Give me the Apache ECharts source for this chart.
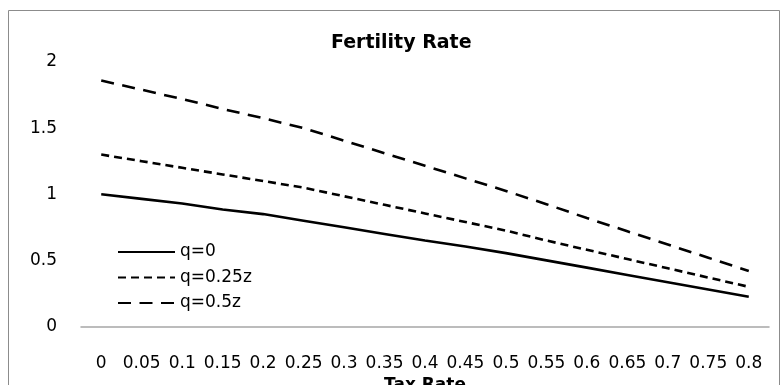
<!DOCTYPE html>
<html>
<head>
<meta charset="utf-8">
<script src="https://cdn.jsdelivr.net/npm/echarts@6/dist/echarts.min.js"></script>
<style>
  html, body { margin: 0; padding: 0; background: #fff; overflow: hidden; }
  #chart { width: 782px; height: 385px; }
</style>
</head>
<body>
<div id="chart"></div>
<script>
// Tax rate categories along the x axis
const taxRates = ['0', '0.05', '0.1', '0.15', '0.2', '0.25', '0.3', '0.35', '0.4',
                  '0.45', '0.5', '0.55', '0.6', '0.65', '0.7', '0.75', '0.8'];

// Fertility rate for each transfer level q
const fertilityQ0 = [1.00, 0.965, 0.93, 0.885, 0.85, 0.80, 0.75, 0.70, 0.65,
                     0.605, 0.555, 0.50, 0.445, 0.39, 0.335, 0.28, 0.225];
const fertilityQ025 = [1.30, 1.25, 1.20, 1.15, 1.10, 1.05, 0.985, 0.92, 0.855,
                       0.79, 0.725, 0.65, 0.58, 0.51, 0.44, 0.37, 0.30];
const fertilityQ05 = [1.86, 1.79, 1.72, 1.645, 1.575, 1.50, 1.405, 1.31, 1.215,
                      1.12, 1.025, 0.925, 0.82, 0.72, 0.62, 0.52, 0.42];

const seriesNames = ['q=0', 'q=0.25z', 'q=0.5z'];

const FONT = 'DejaVu Sans';
const chart = echarts.init(document.getElementById('chart'), null, { renderer: 'canvas' });

function lineSeries(name, data, dash) {
  return {
    name: name,
    type: 'line',
    data: data,
    symbol: 'none',
    smooth: false,
    lineStyle: { color: '#000', width: 2.6, type: dash, cap: 'butt' },
    itemStyle: { color: '#000' },
    emphasis: { disabled: true }
  };
}

chart.setOption({
  animation: false,
  backgroundColor: '#fff',
  graphic: [{
    type: 'rect',
    shape: { x: 8.5, y: 10.5, width: 771, height: 400 },
    style: { fill: 'none', stroke: '#8c8c8c', lineWidth: 1 },
    silent: true
  }],
  title: {
    text: 'Fertility Rate',
    left: 326,
    top: 29,
    textStyle: { fontFamily: FONT, fontSize: 19, fontWeight: 'bold', color: '#000' }
  },
  legend: {
    orient: 'vertical',
    left: 112,
    top: 238.5,
    itemWidth: 57,
    itemHeight: 14,
    itemGap: 8.5,
    data: seriesNames,
    // only the line sample is shown beside each name
    itemStyle: { opacity: 0 },
    textStyle: { fontFamily: FONT, fontSize: 17, color: '#000' }
  },
  grid: { left: 81, width: 688, top: 62, height: 264.5, containLabel: false, outerBoundsMode: 'none' },
  xAxis: {
    type: 'category',
    data: taxRates,
    boundaryGap: true,
    name: 'Tax Rate',
    nameLocation: 'middle',
    nameGap: 46,
    nameTextStyle: { fontFamily: FONT, fontSize: 17, fontWeight: 'bold', color: '#000' },
    axisLine: { lineStyle: { color: '#a6a6a6', width: 1.5 } },
    axisTick: { show: false },
    axisLabel: { interval: 0, margin: 29, fontFamily: FONT, fontSize: 17, color: '#000' },
    splitLine: { show: false }
  },
  yAxis: {
    type: 'value',
    min: 0,
    max: 2,
    interval: 0.5,
    axisLine: { show: false },
    axisTick: { show: false },
    splitLine: { show: false },
    axisLabel: { margin: 24, fontFamily: FONT, fontSize: 17, color: '#000' }
  },
  series: [
    lineSeries(seriesNames[0], fertilityQ0, 'solid'),
    lineSeries(seriesNames[1], fertilityQ025, [8, 5]),
    lineSeries(seriesNames[2], fertilityQ05, [13, 8.5])
  ]
});
</script>
</body>
</html>
